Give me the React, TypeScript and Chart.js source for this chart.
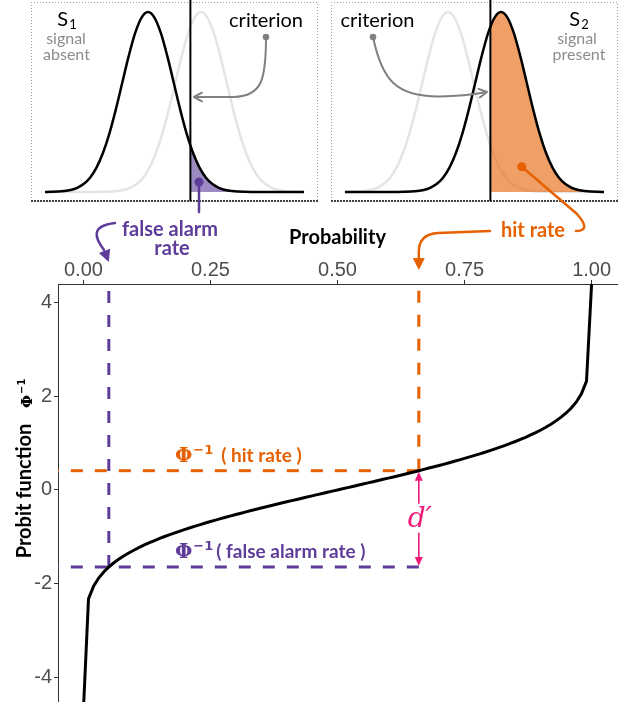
import React, { useEffect, useRef } from "react";
import { Chart, registerables } from "chart.js";
Chart.register(...registerables);

// ---------------- data ----------------
const probability = [
  0, 0.01, 0.02, 0.03, 0.04, 0.05, 0.06, 0.07, 0.08, 0.09, 0.1, 0.11, 0.12, 0.13, 0.14, 0.15, 0.16, 0.17, 0.18, 0.19,
  0.2, 0.21, 0.22, 0.23, 0.24, 0.25, 0.26, 0.27, 0.28, 0.29, 0.3, 0.31, 0.32, 0.33, 0.34, 0.35, 0.36, 0.37, 0.38, 0.39,
  0.4, 0.41, 0.42, 0.43, 0.44, 0.45, 0.46, 0.47, 0.48, 0.49, 0.5, 0.51, 0.52, 0.53, 0.54, 0.55, 0.56, 0.57, 0.58, 0.59,
  0.6, 0.61, 0.62, 0.63, 0.64, 0.65, 0.66, 0.67, 0.68, 0.69, 0.7, 0.71, 0.72, 0.73, 0.74, 0.75, 0.76, 0.77, 0.78, 0.79,
  0.8, 0.81, 0.82, 0.83, 0.84, 0.85, 0.86, 0.87, 0.88, 0.89, 0.9, 0.91, 0.92, 0.93, 0.94, 0.95, 0.96, 0.97, 0.98, 0.99, 1,
];
// probit values; the end points run to the panel edges
const probit = [
  -4.7, -2.326, -2.054, -1.881, -1.751, -1.645, -1.555, -1.476, -1.405, -1.341, -1.282, -1.227, -1.175, -1.126, -1.08,
  -1.036, -0.994, -0.954, -0.915, -0.878, -0.842, -0.806, -0.772, -0.739, -0.706, -0.674, -0.643, -0.613, -0.583,
  -0.553, -0.524, -0.496, -0.468, -0.44, -0.412, -0.385, -0.358, -0.332, -0.305, -0.279, -0.253, -0.228, -0.202,
  -0.176, -0.151, -0.126, -0.1, -0.075, -0.05, -0.025, 0, 0.025, 0.05, 0.075, 0.1, 0.126, 0.151, 0.176, 0.202, 0.228,
  0.253, 0.279, 0.305, 0.332, 0.358, 0.385, 0.412, 0.44, 0.468, 0.496, 0.524, 0.553, 0.583, 0.613, 0.643, 0.674,
  0.706, 0.739, 0.772, 0.806, 0.842, 0.878, 0.915, 0.954, 0.994, 1.036, 1.08, 1.126, 1.175, 1.227, 1.282, 1.341,
  1.405, 1.476, 1.555, 1.645, 1.751, 1.881, 2.054, 2.326, 4.4,
];
const xTickValues = [0, 0.25, 0.5, 0.75, 1];
const xTickLabels = ["0.00", "0.25", "0.50", "0.75", "1.00"];
const yTickValues = [-4, -2, 0, 2, 4];
const yTickLabels = ["-4", "-2", "0", "2", "4"];
const xLimits = [-0.05, 1.05];
const yLimits = [-4.7, 4.4];

const falseAlarmRate = 0.05;
const hitRate = 0.66;
const probitFalseAlarm = -1.645;
const probitHit = 0.412;

// signal-detection densities (standard normal, z grid)
const zGrid = [
  -4, -3.75, -3.5, -3.25, -3, -2.75, -2.5, -2.25, -2, -1.75, -1.5, -1.25, -1, -0.75, -0.5, -0.25, 0, 0.25, 0.5, 0.75,
  1, 1.25, 1.5, 1.75, 2, 2.25, 2.5, 2.75, 3, 3.25, 3.5, 3.75, 4,
];
const densityValues = [
  0.0001, 0.0004, 0.0009, 0.002, 0.0044, 0.0091, 0.0175, 0.0317, 0.054, 0.0863, 0.1295, 0.1826, 0.242, 0.3011, 0.3521,
  0.3867, 0.3989, 0.3867, 0.3521, 0.3011, 0.242, 0.1826, 0.1295, 0.0863, 0.054, 0.0317, 0.0175, 0.0091, 0.0044, 0.002,
  0.0009, 0.0004, 0.0001,
];
const criterion = 1.645;
const dPrime = 2.057;
const densityAtCriterionS1 = 0.1031;
const densityAtCriterionS2 = 0.3664;
const panelDomain = [-4, 6.057];
const panelXLimits = [-4.503, 6.56];
const panelYLimits = [-0.02, 0.419];

// ---------------- style ----------------
const PURPLE = "#5E3C99";
const ORANGE = "#E66101";
const PINK = "#EE1A7A";
const LIGHT = "#E5E5E5";
const ARROW_GRAY = "#808080";
const TEXT_GRAY = "#8C8C8C";
const SANS = "Lato, 'Noto Sans', sans-serif";

const W = 624;
const PANEL_H = 210;
const MAIN_H = 712;

function fillHead(ctx: CanvasRenderingContext2D, tx: number, ty: number, angle: number, len: number, half: number, color: string) {
  ctx.save();
  ctx.fillStyle = color;
  ctx.translate(tx, ty);
  ctx.rotate(angle);
  ctx.beginPath();
  ctx.moveTo(0, 0);
  ctx.lineTo(-len, -half);
  ctx.lineTo(-len, half);
  ctx.closePath();
  ctx.fill();
  ctx.restore();
}

function openHead(ctx: CanvasRenderingContext2D, tx: number, ty: number, angle: number, len: number, color: string, lw: number) {
  ctx.save();
  ctx.strokeStyle = color;
  ctx.lineWidth = lw;
  ctx.lineCap = "round";
  ctx.lineJoin = "round";
  ctx.translate(tx, ty);
  ctx.rotate(angle);
  ctx.beginPath();
  ctx.moveTo(-len * Math.cos(0.5), -len * Math.sin(0.5));
  ctx.lineTo(0, 0);
  ctx.lineTo(-len * Math.cos(0.5), len * Math.sin(0.5));
  ctx.stroke();
  ctx.restore();
}

function dot(ctx: CanvasRenderingContext2D, x: number, y: number, r: number, color: string) {
  ctx.save();
  ctx.fillStyle = color;
  ctx.beginPath();
  ctx.arc(x, y, r, 0, Math.PI * 2);
  ctx.fill();
  ctx.restore();
}

function subLabel(ctx: CanvasRenderingContext2D, cx: number, baseline: number, main: string, sub: string) {
  ctx.save();
  ctx.fillStyle = "#000";
  ctx.textBaseline = "alphabetic";
  ctx.textAlign = "left";
  ctx.font = `20px ${SANS}`;
  const w1 = ctx.measureText(main).width;
  ctx.font = `13px ${SANS}`;
  const w2 = ctx.measureText(sub).width;
  const x0 = cx - (w1 + 1 + w2) / 2;
  ctx.font = `20px ${SANS}`;
  ctx.fillText(main, x0, baseline);
  ctx.font = `13px ${SANS}`;
  ctx.fillText(sub, x0 + w1 + 1, baseline + 3);
  ctx.restore();
}

function phiLabel(ctx: CanvasRenderingContext2D, x: number, baseline: number, rest: string, color: string, gap: number) {
  ctx.save();
  ctx.fillStyle = color;
  ctx.textAlign = "left";
  ctx.textBaseline = "alphabetic";
  ctx.font = "bold 20px 'DejaVu Serif'";
  ctx.fillText("Φ", x, baseline);
  const w1 = ctx.measureText("Φ").width;
  ctx.font = "bold 13px 'DejaVu Sans'";
  ctx.fillText("−1", x + w1 + 1, baseline - 8);
  const w2 = ctx.measureText("−1").width;
  ctx.font = `bold 19px ${SANS}`;
  ctx.fillText(rest, x + w1 + 1 + w2 + gap, baseline);
  ctx.restore();
}

const panelFramePlugin = {
  id: "panelFrame",
  beforeDatasetsDraw(chart: any) {
    const { ctx, chartArea: a } = chart;
    ctx.save();
    ctx.strokeStyle = "#A0A0A0";
    ctx.lineWidth = 1;
    ctx.setLineDash([1, 2]);
    ctx.beginPath();
    ctx.moveTo(a.left - 0.5, a.bottom);
    ctx.lineTo(a.left - 0.5, a.top - 0.5);
    ctx.lineTo(a.right + 0.5, a.top - 0.5);
    ctx.lineTo(a.right + 0.5, a.bottom);
    ctx.stroke();
    ctx.strokeStyle = "#444";
    ctx.lineWidth = 2;
    ctx.setLineDash([2, 1]);
    ctx.beginPath();
    ctx.moveTo(a.left - 1, a.bottom);
    ctx.lineTo(a.right + 1, a.bottom);
    ctx.stroke();
    ctx.restore();
  },
};

function densityCurve(shift: number) {
  const pts = zGrid.map((z, i) => ({ x: z + shift, y: densityValues[i] }));
  if (shift > 0) pts.unshift({ x: panelDomain[0], y: 0 });
  else pts.push({ x: panelDomain[1], y: 0 });
  return pts;
}

function tail(shift: number, startDensity: number) {
  const pts = [{ x: criterion, y: startDensity }];
  zGrid.forEach((z, i) => {
    if (z + shift > criterion) pts.push({ x: z + shift, y: densityValues[i] });
  });
  if (shift === 0) pts.push({ x: panelDomain[1], y: 0 });
  return pts;
}

function panelConfig(kind: "s1" | "s2") {
  const isS1 = kind === "s1";
  const padding = isS1 ? { left: 32, right: W - 317, top: 3, bottom: PANEL_H - 201 } : { left: 332, right: W - 617, top: 3, bottom: PANEL_H - 201 };
  const main = isS1 ? densityCurve(0) : densityCurve(dPrime);
  const other = isS1 ? densityCurve(dPrime) : densityCurve(0);
  const fillPts = isS1 ? tail(0, densityAtCriterionS1) : tail(dPrime, densityAtCriterionS2);
  return {
    type: "line" as const,
    data: {
      datasets: [
        { data: [{ x: criterion, y: panelYLimits[0] }, { x: criterion, y: 0.5 }], borderColor: "#000", borderWidth: 2, pointRadius: 0, order: 1, clip: { left: 0, right: 0, top: 4, bottom: 0 } },
        { data: main, borderColor: "#000", borderWidth: 2.5, pointRadius: 0, cubicInterpolationMode: "monotone", order: 2 },
        { data: fillPts, borderWidth: 0, borderColor: "rgba(0,0,0,0)", backgroundColor: isS1 ? "rgba(94,60,153,0.6)" : "rgba(230,97,1,0.6)", fill: "origin", pointRadius: 0, cubicInterpolationMode: "monotone", order: 3 },
        { data: other, borderColor: LIGHT, borderWidth: 2.5, pointRadius: 0, cubicInterpolationMode: "monotone", order: 4 },
      ],
    },
    options: {
      animation: false,
      responsive: false,
      maintainAspectRatio: false,
      layout: { padding },
      plugins: { legend: { display: false }, tooltip: { enabled: false } },
      scales: {
        x: { type: "linear", display: false, min: panelXLimits[0], max: panelXLimits[1] },
        y: { type: "linear", display: false, min: panelYLimits[0], max: panelYLimits[1] },
      },
    },
    plugins: [panelFramePlugin],
  };
}

const annotationPlugin = {
  id: "annotations",
  afterDraw(chart: any) {
    const ctx: CanvasRenderingContext2D = chart.ctx;
    const xs = chart.scales.x;
    const ys = chart.scales.y;
    ctx.save();

    // axis titles
    ctx.fillStyle = "#000";
    ctx.textAlign = "center";
    ctx.textBaseline = "middle";
    ctx.font = `bold 20px ${SANS}`;
    ctx.fillText("Probability", xs.getPixelForValue(0.5), 238);

    ctx.save();
    ctx.translate(25, 491);
    ctx.rotate(-Math.PI / 2);
    ctx.fillText("Probit function", 0, 0);
    ctx.restore();
    ctx.save();
    ctx.translate(32, 408);
    ctx.rotate(-Math.PI / 2);
    ctx.textAlign = "left";
    ctx.textBaseline = "alphabetic";
    ctx.font = "bold 15px 'DejaVu Serif'";
    ctx.fillText("Φ", 0, 0);
    const pw = ctx.measureText("Φ").width;
    ctx.font = "bold 10px 'DejaVu Sans'";
    ctx.fillText("−1", pw + 1, -7);
    ctx.restore();

    // Φ^-1 labels
    phiLabel(ctx, xs.getPixelForValue(0.18), ys.getPixelForValue(probitHit) - 8.5, "( hit rate )", ORANGE, 8);
    phiLabel(ctx, xs.getPixelForValue(0.18), ys.getPixelForValue(probitFalseAlarm) - 8.5, "( false alarm rate )", PURPLE, 3);

    // d' arrow
    const dx = xs.getPixelForValue(hitRate);
    const yTop = ys.getPixelForValue(probitHit);
    const yBot = ys.getPixelForValue(probitFalseAlarm);
    const mid = (yTop + yBot) / 2;
    ctx.strokeStyle = PINK;
    ctx.lineWidth = 1.6;
    ctx.beginPath();
    ctx.moveTo(dx, yTop + 6);
    ctx.lineTo(dx, mid - 15);
    ctx.moveTo(dx, mid + 14);
    ctx.lineTo(dx, yBot - 6);
    ctx.stroke();
    fillHead(ctx, dx, yTop + 1, -Math.PI / 2, 9, 4, PINK);
    fillHead(ctx, dx, yBot - 1, Math.PI / 2, 9, 4, PINK);
    ctx.fillStyle = PINK;
    ctx.font = "italic 28px 'DejaVu Serif'";
    ctx.textAlign = "center";
    ctx.textBaseline = "middle";
    ctx.fillText("d′", dx + 1, mid + 1);

    // panel texts
    subLabel(ctx, 67, 26, "S", "1");
    subLabel(ctx, 579, 26, "S", "2");
    ctx.textBaseline = "alphabetic";
    ctx.textAlign = "center";
    ctx.fillStyle = TEXT_GRAY;
    ctx.font = `16px ${SANS}`;
    ctx.fillText("signal", 66, 43.5);
    ctx.fillText("absent", 66.5, 60);
    ctx.fillText("signal", 577, 43.5);
    ctx.fillText("present", 579, 60);
    ctx.fillStyle = "#000";
    ctx.font = `20px ${SANS}`;
    ctx.fillText("criterion", 266, 26.5);
    ctx.fillText("criterion", 377.5, 26.5);

    // criterion pointers (grey)
    ctx.strokeStyle = ARROW_GRAY;
    ctx.lineWidth = 2;
    ctx.lineCap = "round";
    ctx.beginPath();
    ctx.moveTo(266, 37);
    ctx.bezierCurveTo(266, 80, 262, 96, 234, 97);
    ctx.lineTo(196, 97);
    ctx.stroke();
    openHead(ctx, 194, 97, Math.PI, 9, ARROW_GRAY, 2);
    dot(ctx, 266, 37, 3.3, ARROW_GRAY);

    ctx.beginPath();
    ctx.moveTo(373, 37);
    ctx.bezierCurveTo(382, 80, 396, 97, 440, 96.5);
    ctx.quadraticCurveTo(465, 96, 485, 92.3);
    ctx.stroke();
    openHead(ctx, 487, 92, -0.15, 9, ARROW_GRAY, 2);
    dot(ctx, 373, 37, 3.3, ARROW_GRAY);

    // false alarm annotation
    ctx.strokeStyle = PURPLE;
    ctx.lineWidth = 2.5;
    ctx.beginPath();
    ctx.moveTo(199, 182);
    ctx.lineTo(199, 212);
    ctx.stroke();
    dot(ctx, 199, 182, 4.5, PURPLE);
    ctx.beginPath();
    ctx.moveTo(115, 223);
    ctx.bezierCurveTo(90, 226, 95, 238, 104, 250);
    ctx.stroke();
    fillHead(ctx, xs.getPixelForValue(falseAlarmRate), 262, 1.2, 12, 6, PURPLE);
    ctx.fillStyle = PURPLE;
    ctx.font = `bold 20px ${SANS}`;
    ctx.textAlign = "center";
    ctx.textBaseline = "alphabetic";
    ctx.fillText("false alarm", 170, 236);
    ctx.fillText("rate", 172, 255);

    // hit rate annotation
    ctx.strokeStyle = ORANGE;
    ctx.lineWidth = 2.5;
    ctx.beginPath();
    ctx.moveTo(521.7, 166.7);
    ctx.lineTo(577, 214);
    ctx.quadraticCurveTo(592, 231, 576, 231);
    ctx.stroke();
    dot(ctx, 521.7, 166.7, 4.5, ORANGE);
    const hx = xs.getPixelForValue(hitRate);
    ctx.beginPath();
    ctx.moveTo(490, 231);
    ctx.lineTo(438, 233);
    ctx.quadraticCurveTo(hx, 234, hx, 252);
    ctx.lineTo(hx, 258);
    ctx.stroke();
    fillHead(ctx, hx, 270, Math.PI / 2, 12, 6, ORANGE);
    ctx.fillStyle = ORANGE;
    ctx.font = `bold 20px ${SANS}`;
    ctx.fillText("hit rate", 533, 237);

    ctx.restore();
  },
};

function mainConfig() {
  const curve = probability.map((p, i) => ({ x: p, y: probit[i] }));
  const dash = [12, 12];
  return {
    type: "line" as const,
    data: {
      datasets: [
        { data: curve, borderColor: "#000", borderWidth: 3, pointRadius: 0, order: 0 },
        { data: [{ x: hitRate, y: probitHit }, { x: hitRate, y: yLimits[1] }], borderColor: ORANGE, borderWidth: 3, borderDash: dash, pointRadius: 0, order: 1 },
        { data: [{ x: hitRate, y: probitHit }, { x: xLimits[0], y: probitHit }], borderColor: ORANGE, borderWidth: 3, borderDash: dash, pointRadius: 0, order: 1 },
        { data: [{ x: falseAlarmRate, y: probitFalseAlarm }, { x: falseAlarmRate, y: yLimits[1] }], borderColor: PURPLE, borderWidth: 3, borderDash: dash, pointRadius: 0, order: 2 },
        { data: [{ x: hitRate, y: probitFalseAlarm }, { x: xLimits[0], y: probitFalseAlarm }], borderColor: PURPLE, borderWidth: 3, borderDash: dash, pointRadius: 0, order: 2 },
      ],
    },
    options: {
      animation: false,
      responsive: false,
      maintainAspectRatio: false,
      layout: { padding: { top: 250, right: 7, bottom: 2, left: 0 } },
      plugins: { legend: { display: false }, tooltip: { enabled: false } },
      scales: {
        x: {
          type: "linear",
          position: "top",
          min: xLimits[0],
          max: xLimits[1],
          afterBuildTicks: (s: any) => {
            s.ticks = xTickValues.map((v) => ({ value: v }));
          },
          afterFit: (s: any) => {
            s.height = 34;
            s.paddingLeft = 0;
            s.paddingRight = 0;
          },
          ticks: {
            autoSkip: false,
            maxRotation: 0,
            padding: -2,
            color: "#4D4D4D",
            font: { family: "'Liberation Sans', Arial, sans-serif", size: 20 },
            callback: (v: number) => xTickLabels[xTickValues.indexOf(v)],
          },
          grid: { drawOnChartArea: false, drawTicks: true, tickLength: 4, color: "#333", tickWidth: 1 },
          border: { display: true, color: "#333", width: 1 },
        },
        y: {
          type: "linear",
          min: yLimits[0],
          max: yLimits[1],
          afterBuildTicks: (s: any) => {
            s.ticks = yTickValues.map((v) => ({ value: v }));
          },
          afterFit: (s: any) => {
            s.width = 58;
            s.paddingTop = 0;
            s.paddingBottom = 0;
          },
          ticks: {
            autoSkip: false,
            padding: 2,
            color: "#4D4D4D",
            font: { family: "'Liberation Sans', Arial, sans-serif", size: 20 },
            callback: (v: number) => yTickLabels[yTickValues.indexOf(v)],
          },
          grid: { drawOnChartArea: false, drawTicks: true, tickLength: 4, color: "#333", tickWidth: 1 },
          border: { display: true, color: "#333", width: 1 },
        },
      },
    },
    plugins: [annotationPlugin],
  };
}

export default function App() {
  const leftRef = useRef<HTMLCanvasElement | null>(null);
  const rightRef = useRef<HTMLCanvasElement | null>(null);
  const mainRef = useRef<HTMLCanvasElement | null>(null);

  useEffect(() => {
    const charts: Chart[] = [];
    if (leftRef.current) charts.push(new Chart(leftRef.current, panelConfig("s1") as any));
    if (rightRef.current) charts.push(new Chart(rightRef.current, panelConfig("s2") as any));
    if (mainRef.current) charts.push(new Chart(mainRef.current, mainConfig() as any));
    return () => charts.forEach((c) => c.destroy());
  }, []);

  const abs: React.CSSProperties = { position: "absolute", left: 0, top: 0 };
  return (
    <div style={{ position: "absolute", left: 0, top: 0, width: W, height: 702, overflow: "hidden", background: "#fff" }}>
      <canvas ref={leftRef} width={W} height={PANEL_H} style={{ ...abs, width: W, height: PANEL_H }} />
      <canvas ref={rightRef} width={W} height={PANEL_H} style={{ ...abs, width: W, height: PANEL_H }} />
      <canvas ref={mainRef} width={W} height={MAIN_H} style={{ ...abs, width: W, height: MAIN_H }} />
    </div>
  );
}
